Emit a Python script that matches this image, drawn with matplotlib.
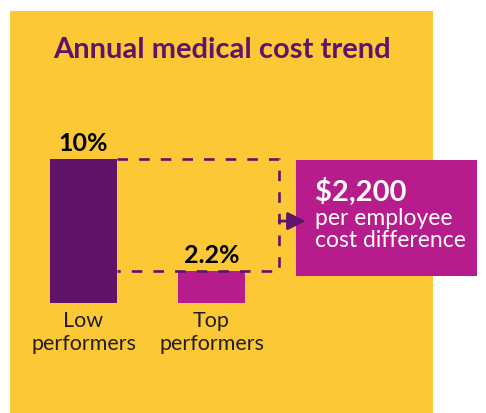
import matplotlib
matplotlib.use('Agg')
import matplotlib.pyplot as plt
from matplotlib.patches import Rectangle

# data
categories = ['Low\nperformers', 'Top\nperformers']
trend_pct = [10, 2.2]
title = 'Annual medical cost trend'
callout_value = '$2,200'
callout_lines = ['per employee', 'cost difference']

# colours
yellow = '#fdc836'
purple = '#5f146a'
magenta = '#b71c8c'

plt.rcParams['font.family'] = ['Lato', 'DejaVu Sans']

W, H = 486, 413
fig = plt.figure(figsize=(W / 100, H / 100), dpi=100)
ax = fig.add_axes([0, 0, 1, 1])
ax.axis('off')

# pixel layout -> data scale (bar 1 centre at 83.5px, baseline 110px up, 128px per bar, 14.4px per %)
px_x, px_y = 128.0, 14.4
ax.set_xlim(-83.5 / px_x, (W - 83.5) / px_x)
ax.set_ylim(-110 / px_y, (H - 110) / px_y)

# yellow panel
ax.add_patch(Rectangle((10 / W, 0), 423 / W, 402 / H, transform=ax.transAxes,
                       facecolor=yellow, edgecolor='none', zorder=0))

ax.text(221.5 / W, 1 - 50 / H, title, transform=ax.transAxes, ha='center', va='center',
        fontsize=21, fontweight='bold', color=purple)

# bars
x = list(range(len(trend_pct)))
bw = 0.52
ax.bar(x, trend_pct, width=bw, color=[purple, magenta], zorder=2)
for xi, v in zip(x, trend_pct):
    ax.text(xi, v + 0.55, f'{v:g}%', ha='center', va='baseline',
            fontsize=18, fontweight='bold', color='black', zorder=3)

# category labels, one line at a time
for xi, c in zip(x, categories):
    for k, line in enumerate(c.split('\n')):
        ax.text(xi, -1.67 - k * 1.6, line, ha='center', va='baseline', fontsize=15.5,
                color='#231f20', zorder=3)

# dashed bracket between the two bar tops
xr = (279 - 83.5) / px_x
ax.plot([bw / 2, xr, xr, bw / 2], [trend_pct[0], trend_pct[0], trend_pct[1], trend_pct[1]],
        color=purple, lw=1.9, linestyle=(0, (4, 4.2)), zorder=4)

# callout box
bx0, bx1 = (296 - 83.5) / px_x, (477 - 83.5) / px_x
by0, by1 = 1.85, 9.93
ax.add_patch(Rectangle((bx0, by0), bx1 - bx0, by1 - by0, facecolor=magenta,
                       edgecolor='none', zorder=2, clip_on=False))
ya = (by0 + by1) / 2 - 0.2
ax.annotate('', xy=(bx0 + 0.075, ya), xytext=(xr, ya),
            arrowprops=dict(arrowstyle='-|>,head_length=0.6,head_width=0.3', color=purple,
                            lw=2, mutation_scale=18, shrinkA=0, shrinkB=0), zorder=5)

tx = (315 - 83.5) / px_x
ax.text(tx, 7.08, callout_value, ha='left', va='baseline', fontsize=21,
        fontweight='bold', color='white', zorder=3)
for k, line in enumerate(callout_lines):
    ax.text(tx, 5.42 - k * 1.53, line, ha='left', va='baseline', fontsize=16.5,
            color='white', zorder=3)

fig.savefig('out.png', dpi=100, facecolor='white')
